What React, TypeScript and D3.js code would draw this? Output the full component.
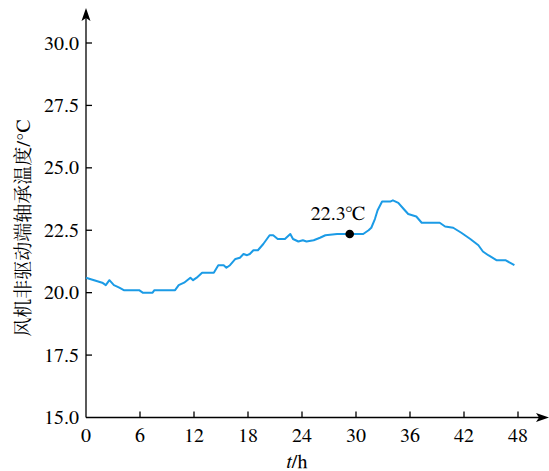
import * as d3 from 'd3';

// time in hours, bearing temperature in °C
const hours = [
  0, 0.9, 1.8, 2.2, 2.6, 3.1, 3.7, 4.2, 5.9, 6.3, 7.4, 7.6, 9.9, 10.3, 10.9, 11.6, 11.9, 12.3, 12.9,
  14.2, 14.7, 15.3, 15.6, 16.0, 16.6, 17.1, 17.5, 17.9, 18.2, 18.6, 19.1, 19.7, 20.4, 20.8, 21.3,
  22.1, 22.7, 23.0, 23.6, 24.1, 24.5, 25.3, 26.0, 26.6, 27.9, 29.3, 30.8, 31.4, 31.7, 32.1, 32.4,
  32.9, 33.8, 34.1, 34.7, 35.3, 35.8, 36.7, 37.3, 39.3, 39.9, 40.8, 41.7, 42.7, 43.6, 44.1, 44.7,
  45.6, 46.6, 47.6,
];
const temps = [
  20.6, 20.5, 20.4, 20.3, 20.5, 20.3, 20.2, 20.1, 20.1, 20.0, 20.0, 20.1, 20.1, 20.3, 20.4, 20.6,
  20.5, 20.6, 20.8, 20.8, 21.1, 21.1, 21.0, 21.1, 21.35, 21.4, 21.55, 21.5, 21.55, 21.7, 21.7, 21.95,
  22.3, 22.3, 22.15, 22.15, 22.35, 22.15, 22.05, 22.1, 22.05, 22.1, 22.2, 22.3, 22.35, 22.35, 22.35,
  22.5, 22.6, 22.95, 23.3, 23.65, 23.65, 23.7, 23.6, 23.35, 23.15, 23.05, 22.8, 22.8, 22.65, 22.6,
  22.4, 22.15, 21.9, 21.65, 21.5, 21.3, 21.3, 21.1,
];
const xTicks = [0, 6, 12, 18, 24, 30, 36, 42, 48];
const yTicks = [15, 17.5, 20, 22.5, 25, 27.5, 30];
const marker = { t: 29.3, v: 22.35, label: '22.3℃' };

const FONT = 'FreeSerif, Tinos, Liberation Serif, Times New Roman, serif';
const txt = { fontFamily: FONT, fontSize: 20 };
const cjk = { fontFamily: 'Noto Serif CJK SC', fontSize: 19 };

export default function App() {
  const x = d3.scaleLinear().domain([0, 48]).range([86, 518]);
  const y = d3.scaleLinear().domain([15, 30]).range([417.5, 43]);
  const x0 = x(0);
  const y0 = y(15);

  const pts = hours.map((h, i) => [h, temps[i]] as [number, number]);
  const line = d3
    .line<[number, number]>()
    .x((d) => x(d[0]))
    .y((d) => y(d[1]));

  return (
    <svg width={549} height={471} style={{ position: 'absolute', left: 0, top: 0 }}>
      <g stroke="#000" strokeWidth={1.3}>
        <line x1={x0} x2={542} y1={y0} y2={y0} />
        <line x1={x0} x2={x0} y1={y0} y2={15} />
        {xTicks.slice(1).map((d) => (
          <line key={d} x1={x(d)} x2={x(d)} y1={y0} y2={y0 - 6} />
        ))}
        {yTicks.slice(1).map((d) => (
          <line key={d} x1={x0} x2={x0 + 6} y1={y(d)} y2={y(d)} />
        ))}
      </g>
      <path d={`M549,${y0} L536,${y0 - 4.5} L539,${y0} L536,${y0 + 4.5} Z`} fill="#000" />
      <path d={`M${x0},8 L${x0 - 4.5},21 L${x0},18 L${x0 + 4.5},21 Z`} fill="#000" />

      {xTicks.map((d) => (
        <text key={d} x={x(d)} y={442} textAnchor="middle" style={txt}>
          {String(d)}
        </text>
      ))}
      {yTicks.map((d) => (
        <text key={d} x={79} y={y(d) + 6.5} textAnchor="end" style={txt}>
          {d.toFixed(1)}
        </text>
      ))}
      <text x={297} y={468} textAnchor="middle" style={txt}>
        <tspan style={{ ...txt, fontStyle: 'italic' }}>t</tspan>
        <tspan style={txt}>/h</tspan>
      </text>
      <text x={x(marker.t) - 12} y={220} textAnchor="middle" style={txt}>
        {marker.label}
      </text>

      <text transform="translate(30,228) rotate(-90)" textAnchor="middle" style={cjk}>
        风机非驱动端轴承温度
        <tspan style={txt}>/°C</tspan>
      </text>

      <path
        d={line(pts) ?? ''}
        fill="none"
        stroke="#1b9be6"
        strokeWidth={2}
        strokeLinejoin="round"
      />
      <circle cx={x(marker.t)} cy={y(marker.v)} r={4.3} fill="#000" />
    </svg>
  );
}
